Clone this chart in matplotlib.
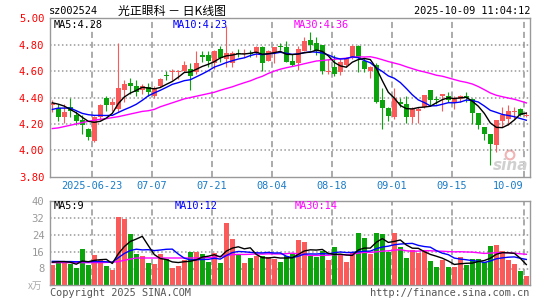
import matplotlib
matplotlib.use('Agg')
import matplotlib.pyplot as plt
import numpy as np
import pandas as pd

# ---------------- data ----------------
tick_idx = [7, 17, 27, 37, 47, 57, 67, 79]
tick_labels = ['2025-06-23', '07-07', '07-21', '08-04', '08-18', '09-01', '09-15', '10-09']

opens = [4.34, 4.32, 4.25, 4.33, 4.27, 4.23, 4.16, 4.07, 4.25, 4.40,
         4.34, 4.31, 4.46, 4.51, 4.49, 4.46, 4.48, 4.41, 4.49, 4.57,
         4.59, 4.59, 4.60, 4.62, 4.59, 4.72, 4.72, 4.66, 4.77, 4.69,
         4.66, 4.74, 4.73, 4.74, 4.74, 4.78, 4.68, 4.74, 4.79, 4.78,
         4.68, 4.66, 4.75, 4.84, 4.81, 4.80, 4.59, 4.63, 4.59, 4.65,
         4.70, 4.79, 4.68, 4.60, 4.65, 4.38, 4.32, 4.25, 4.37, 4.35,
         4.25, 4.30, 4.33, 4.46, 4.39, 4.41, 4.41, 4.36, 4.39, 4.41,
         4.39, 4.28, 4.18, 4.12, 4.04, 4.22, 4.24, 4.29, 4.31, 4.26]
highs = [4.38, 4.35, 4.35, 4.40, 4.30, 4.27, 4.17, 4.26, 4.35, 4.41,
         4.40, 4.81, 4.53, 4.55, 4.53, 4.50, 4.51, 4.49, 4.55, 4.60,
         4.62, 4.61, 4.68, 4.66, 4.75, 4.75, 4.75, 4.76, 4.79, 4.94,
         4.75, 4.77, 4.77, 4.76, 4.79, 4.79, 4.76, 4.78, 4.81, 4.83,
         4.73, 4.79, 4.86, 4.90, 4.86, 4.80, 4.69, 4.72, 4.69, 4.71,
         4.80, 4.80, 4.70, 4.64, 4.66, 4.47, 4.33, 4.47, 4.40, 4.41,
         4.33, 4.33, 4.42, 4.46, 4.41, 4.43, 4.44, 4.41, 4.42, 4.44,
         4.40, 4.28, 4.18, 4.12, 4.23, 4.33, 4.34, 4.33, 4.32, 4.29]
lows = [4.29, 4.22, 4.21, 4.25, 4.19, 4.12, 4.08, 4.06, 4.23, 4.30,
        4.30, 4.29, 4.37, 4.43, 4.41, 4.43, 4.41, 4.40, 4.48, 4.53,
        4.53, 4.54, 4.59, 4.46, 4.58, 4.67, 4.63, 4.62, 4.67, 4.63,
        4.63, 4.71, 4.71, 4.71, 4.71, 4.60, 4.68, 4.66, 4.76, 4.67,
        4.64, 4.61, 4.75, 4.76, 4.72, 4.58, 4.58, 4.56, 4.57, 4.63,
        4.69, 4.59, 4.59, 4.55, 4.36, 4.16, 4.22, 4.24, 4.33, 4.21,
        4.21, 4.21, 4.32, 4.34, 4.35, 4.30, 4.37, 4.31, 4.37, 4.37,
        4.20, 4.16, 4.08, 3.89, 3.99, 4.18, 4.19, 4.24, 4.26, 4.25]
closes = [4.36, 4.25, 4.29, 4.30, 4.22, 4.19, 4.10, 4.25, 4.34, 4.34,
          4.37, 4.47, 4.50, 4.49, 4.44, 4.49, 4.44, 4.47, 4.54, 4.56,
          4.60, 4.60, 4.65, 4.56, 4.66, 4.71, 4.68, 4.75, 4.70, 4.74,
          4.74, 4.73, 4.74, 4.73, 4.78, 4.66, 4.75, 4.78, 4.78, 4.67,
          4.65, 4.77, 4.83, 4.80, 4.75, 4.60, 4.60, 4.58, 4.67, 4.70,
          4.79, 4.70, 4.62, 4.63, 4.37, 4.32, 4.26, 4.40, 4.35, 4.25,
          4.31, 4.31, 4.42, 4.38, 4.38, 4.43, 4.38, 4.39, 4.41, 4.40,
          4.28, 4.19, 4.12, 4.05, 4.23, 4.27, 4.30, 4.30, 4.27, 4.27]
volumes = [9.5, 11.1, 11.1, 10.3, 8.2, 17.1, 9.5, 14.3, 11.9, 9.0,
           7.3, 32.5, 31.4, 24.2, 14.7, 13.8, 10.5, 10.0, 14.7, 12.4,
           8.1, 9.0, 11.9, 15.8, 15.8, 14.7, 11.1, 15.4, 10.5, 29.6,
           21.9, 14.3, 10.5, 13.0, 13.8, 14.1, 13.5, 12.4, 11.1, 13.9,
           14.7, 21.4, 20.6, 13.9, 13.3, 16.2, 11.9, 18.1, 14.7, 11.1,
           15.4, 24.9, 22.5, 14.7, 24.9, 24.2, 15.8, 24.9, 18.1, 13.0,
           16.6, 15.4, 17.0, 11.6, 8.7, 11.9, 8.7, 8.7, 13.3, 9.8,
           12.4, 12.4, 11.1, 18.7, 19.3, 16.2, 11.9, 10.1, 6.8, 4.3]

# moving-average values before enough visible history exists
ma5_head = [4.36, 4.35, 4.335, 4.31]
ma10_head = [4.31, 4.32, 4.32, 4.32, 4.30, 4.28, 4.27, 4.265, 4.265]
ma30_head = [4.165, 4.17, 4.18, 4.19, 4.20, 4.21, 4.22, 4.228, 4.235, 4.24,
             4.248, 4.255, 4.265, 4.275, 4.285, 4.295, 4.30, 4.31, 4.33, 4.345,
             4.36, 4.375, 4.39, 4.40, 4.41, 4.42, 4.43, 4.44, 4.455]
vma5_head = [11.0, 11.2, 11.3, 11.0]
vma10_head = [11.4, 11.4, 11.3, 11.3, 11.2, 11.3, 11.2, 11.3, 11.3]
vma30_head = [10.8, 10.8, 10.8, 10.8, 10.8, 10.8, 10.8, 10.8, 10.8, 10.9,
              11.0, 11.3, 11.9, 12.5, 13.0, 13.0, 13.0, 13.0, 13.0, 13.0,
              13.0, 13.0, 13.0, 13.0, 13.0, 13.1, 13.2, 13.4, 13.8]

ma_labels = ['MA5:4.28', 'MA10:4.23', 'MA30:4.36']
vma_labels = ['MA5:9', 'MA10:12', 'MA30:14']

# ---------------- styling ----------------
RED = '#fa5a5a'
GREEN = '#0ca40c'
GRID_V = '#959595'
GRID_H = '#999999'
FRAME = '#999999'
MONO = 'DejaVu Sans Mono'
CJK = ['Noto Sans CJK SC', 'DejaVu Sans']

W, H = 545, 300
fig = plt.figure(figsize=(W / 100, H / 100), dpi=100)
fig.patch.set_facecolor('white')


def fx(px):
    return px / W


def fy(py):
    return 1 - py / H


L, R = 50, 529.5
ax = fig.add_axes([fx(L), fy(176.7), fx(R) - fx(L), fy(18.4) - fy(176.7)])
axv = fig.add_axes([fx(L), fy(285.3), fx(R) - fx(L), fy(201.3) - fy(285.3)])

idx = np.arange(len(closes))
o, h, l, c = (np.array(a, float) for a in (opens, highs, lows, closes))
v = np.array(volumes, float)
up = c >= o
cols = np.where(up, RED, GREEN)


def with_head(series, n, head):
    m = pd.Series(series).rolling(n).mean().to_numpy()
    m[:len(head)] = head
    return m


ma5 = with_head(c, 5, ma5_head)
ma10 = with_head(c, 10, ma10_head)
ma30 = with_head(c, 30, ma30_head)
vma5 = with_head(v, 5, vma5_head)
vma10 = with_head(v, 10, vma10_head)
vma30 = with_head(v, 30, vma30_head)

for a in (ax, axv):
    a.set_facecolor('white')
    a.set_xlim(-0.38, 79.53)

ax.set_ylim(3.80, 5.00)
axv.set_ylim(0, 40)
pt = [3.8, 4.0, 4.2, 4.4, 4.6, 4.8, 5.0]
vt = [8, 16, 24, 32, 40]

# grid lines
for a, ylo, yhi, ys in ((ax, 3.80, 5.00, pt[1:-1]), (axv, 0, 40, vt[:-1])):
    for t in tick_idx:
        a.plot([t - 0.4, t - 0.4], [ylo, yhi], color=GRID_V, lw=1.1,
               ls=(0, (4, 2.5)), zorder=2.5)
    for yv in ys:
        a.plot([-0.38, 79.53], [yv, yv], color=GRID_H, lw=1.1,
               ls=(0, (1, 1.6)), zorder=2.5)

# price panel
ax.vlines(idx, l, h, colors=cols, lw=0.8, zorder=3)
body_h = np.maximum(np.abs(c - o), 0.007)
ax.bar(idx, body_h, bottom=np.minimum(o, c), width=0.78, color=cols,
       linewidth=0, zorder=3.5)
ax.plot(idx, ma30, color='#ff00ff', lw=1.0, zorder=4)
ax.plot(idx, ma10, color='#0000ff', lw=1.0, zorder=4)
ax.plot(idx, ma5, color='black', lw=1.0, zorder=5)

# volume panel
axv.bar(idx, v, width=0.8, color=cols, linewidth=0, zorder=3.5)
axv.plot(idx, vma30, color='#ff00ff', lw=1.0, zorder=4)
axv.plot(idx, vma10, color='#0000ff', lw=1.0, zorder=4)
axv.plot(idx, vma5, color='black', lw=1.0, zorder=5)

for a in (ax, axv):
    a.set_xlim(-0.38, 79.53)
    for s in a.spines.values():
        s.set_color(FRAME)
        s.set_linewidth(1.0)
        s.set_zorder(6)
    a.tick_params(length=0)

ax.set_ylim(3.80, 5.00)
ax.set_yticks(pt)
ax.set_yticklabels(['%.2f' % p for p in pt], color='#ff0000', family=MONO, fontsize=7.6)
ax.tick_params(axis='y', pad=4)
ax.set_xticks([t - 0.4 for t in tick_idx])
ax.set_xticklabels(tick_labels, color='#1a7cc8', family=MONO, fontsize=7.4)
ax.get_xticklabels()[-1].set_horizontalalignment('right')
ax.tick_params(axis='x', pad=3.2)

axv.set_ylim(0, 40)
axv.set_yticks(vt)
axv.set_yticklabels([str(t) for t in vt], color='#999999', family=MONO, fontsize=7.6)
axv.tick_params(axis='y', pad=4)
axv.set_xticks([])

# MA labels
for txt, x0, col in zip(ma_labels, (53.5, 173, 294), ('black', '#0000ff', '#ff00ff')):
    fig.text(fx(x0), fy(24.5), txt, color=col, family=MONO, fontsize=7.4, va='center')
for txt, x0, col in zip(vma_labels, (53.5, 175, 295), ('black', '#0000ff', '#ff00ff')):
    fig.text(fx(x0), fy(206), txt, color=col, family=MONO, fontsize=7.4, va='center')

# header
fig.text(fx(48.5), fy(11.5), 'sz002524', family=MONO, fontsize=7.4, va='center', color='black')
fig.text(fx(118), fy(11.5), '光正眼科 － 日K线图', family=CJK, fontsize=8.6, va='center', color='black')
fig.text(fx(530), fy(11.5), '2025-10-09 11:04:12', family=MONO, fontsize=7.4, va='center',
         ha='right', color='black')

# footer
fig.text(fx(50), fy(292.5), 'Copyright 2025 SINA.COM', family=MONO, fontsize=7.4, va='center',
         color='#555555')
fig.text(fx(529.5), fy(292.5), 'http://finance.sina.com.cn', family=MONO, fontsize=7.4,
         va='center', ha='right', color='#555555')
fig.text(fx(28), fy(285.5), 'x万', family=CJK, fontsize=7, va='center', color='#aaaaaa',
         style='italic')

# sina watermark
fig.text(fx(511), fy(165), 'sina', family='DejaVu Sans', fontsize=11, fontweight='bold',
         style='italic', color='#d0d0d0', ha='center', va='center')
ax.scatter([fx(510)], [fy(155)], s=40, facecolors='none', edgecolors='#f2b4b4',
           linewidths=1.5, transform=fig.transFigure, zorder=0, clip_on=False)

fig.savefig('out.png', dpi=100)
